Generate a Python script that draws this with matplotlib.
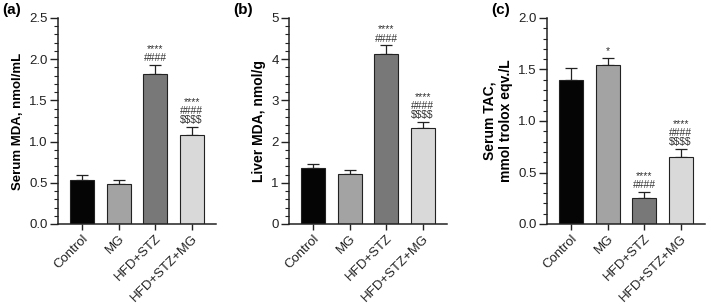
import numpy as np
import matplotlib.pyplot as plt
from matplotlib.ticker import MultipleLocator

groups = ["Control", "MG", "HFD+STZ", "HFD+STZ+MG"]
bar_colors = ["#050505", "#a3a3a3", "#787878", "#d9d9d9"]

serum_mda     = [0.53, 0.48, 1.82, 1.08]
serum_mda_err = [0.07, 0.05, 0.11, 0.10]
liver_mda     = [1.35, 1.22, 4.12, 2.33]
liver_mda_err = [0.10, 0.08, 0.22, 0.15]
serum_tac     = [1.40, 1.54, 0.25, 0.65]
serum_tac_err = [0.11, 0.07, 0.06, 0.08]

sig_a = ["", "", "****\n####", "****\n####\n\\$\\$\\$\\$"]
sig_b = ["", "", "****\n####", "****\n####\n\\$\\$\\$\\$"]
sig_c = ["", "*", "****\n####", "****\n####\n\\$\\$\\$\\$"]

panels = [
    # label, left px, values, errors, sig, ylabel, label size, ymax, major, minor, fmt
    ("(a)", 58,  serum_mda, serum_mda_err, sig_a, "Serum MDA, nmol/mL", 9.5, 2.5, 0.5, 0.1, "{:.1f}"),
    ("(b)", 289, liver_mda, liver_mda_err, sig_b, "Liver MDA, nmol/g", 10, 5, 1, 0.2, "{:.0f}"),
    ("(c)", 547, serum_tac, serum_tac_err, sig_c, "Serum TAC,\nmmol trolox eqv./L", 10, 2.0, 0.5, 0.1, "{:.1f}"),
]

W, H = 709, 306
plt.rcParams["font.family"] = "Liberation Sans"
fig = plt.figure(figsize=(W / 100, H / 100), dpi=100)

for label, left, vals, errs, sig, ylabel, ylsize, ymax, major, minor, fmt in panels:
    ax = fig.add_axes([left / W, 1 - 224 / H, 158 / W, 206 / H])
    x = np.arange(len(groups))
    ax.bar(x, vals, width=0.66, color=bar_colors, edgecolor="#222222", linewidth=0.8, zorder=2)
    ax.errorbar(x, vals, yerr=[np.zeros(len(vals)), errs], fmt="none",
                ecolor="#222222", elinewidth=0.9, capsize=4, capthick=0.9, zorder=1)
    for xi, v, e, s in zip(x, vals, errs, sig):
        if s:
            ax.text(xi, v + e + ymax * 0.008, s, ha="center", va="bottom",
                    fontsize=7.5, color="#333333", linespacing=0.9)
    ax.set_xlim(-0.66, 3.67)
    ax.set_ylim(0, ymax)
    ax.yaxis.set_minor_locator(MultipleLocator(minor))
    ticks = np.arange(0, ymax + 1e-9, major)
    ax.set_yticks(ticks)
    ax.set_yticklabels([fmt.format(t) for t in ticks])
    ax.set_xticks(x)
    ax.set_xticklabels(groups, rotation=45, ha="right", rotation_mode="anchor", fontsize=9.5)
    ax.tick_params(axis="y", which="major", length=5.5, width=1, labelsize=9.5, colors="#222222", pad=2)
    ax.tick_params(axis="y", which="minor", length=3, width=0.8, colors="#222222")
    ax.tick_params(axis="x", length=4, width=1, colors="#222222", pad=2)
    for sp in ["top", "right"]:
        ax.spines[sp].set_visible(False)
    for sp in ["left", "bottom"]:
        ax.spines[sp].set_linewidth(1.1)
        ax.spines[sp].set_color("#222222")
    ax.set_ylabel(ylabel, fontsize=ylsize, fontweight="bold", labelpad=4, linespacing=1.15)
    fig.text((left - 56) / W, 1 - 10 / H, label, fontsize=11, fontweight="bold", va="center", ha="left")

fig.savefig("out.png", dpi=100)
